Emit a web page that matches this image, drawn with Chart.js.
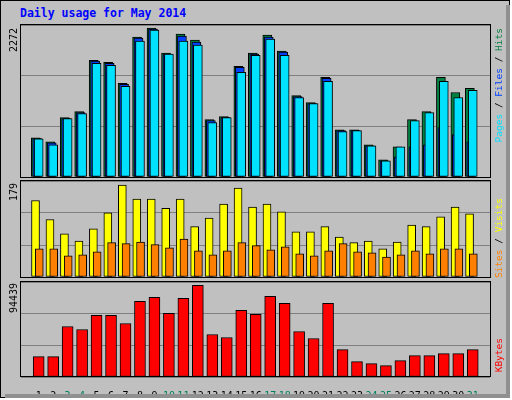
<!DOCTYPE html>
<html><head><meta charset="utf-8">
<script src="https://cdn.jsdelivr.net/npm/chart.js@4"></script>
<style>
body{margin:0;background:#fff}
#f{position:absolute;left:0;top:0;width:510px;height:398px;background:#c0c0c0;border:1px solid #000;box-sizing:border-box}
#sh1{position:absolute;left:506px;top:5px;width:4px;height:393px;background:#909090}
#sh2{position:absolute;left:5px;top:394px;width:505px;height:4px;background:#909090}
.b{position:absolute;border:1px solid #000;box-sizing:border-box;pointer-events:none}
.lbl{position:absolute;font-family:"DejaVu Sans Mono",monospace;writing-mode:vertical-rl;transform:rotate(180deg);white-space:pre}
canvas{position:absolute}
#t{position:absolute;left:20px;top:6px;font:bold 11.5px "DejaVu Sans Mono",monospace;color:#0000ff}
</style></head><body>
<div id="f"></div><div id="sh1"></div><div id="sh2"></div>
<div id="t">Daily usage for May 2014</div>
<div style="position:absolute;left:21px;top:25px;width:469px;height:152px"><canvas id="c1"></canvas></div>
<div style="position:absolute;left:21px;top:181px;width:469px;height:96px"><canvas id="c2"></canvas></div>
<div style="position:absolute;left:21px;top:282px;width:469px;height:112px"><canvas id="c3"></canvas></div>
<div class="b" style="left:20px;top:24px;width:471px;height:154px"></div>
<div class="b" style="left:20px;top:180px;width:471px;height:98px"></div>
<div class="b" style="left:20px;top:281px;width:471px;height:96px"></div>
<div class="lbl" style="left:8px;top:28px;font-size:10px">2272</div>
<div class="lbl" style="left:8px;top:183px;font-size:10px">179</div>
<div class="lbl" style="left:8px;top:283px;font-size:10px">94439</div>
<div class="lbl" style="left:493px;top:28px;font-size:9.5px"><span style="color:#00e0ff">Pages</span> / <span style="color:#0040ff">Files</span> / <span style="color:#008040">Hits</span></div>
<div class="lbl" style="left:493px;top:198px;font-size:9.5px"><span style="color:#ff8000">Sites</span> / <span style="color:#ffff00">Visits</span></div>
<div class="lbl" style="left:493px;top:338px;font-size:9.5px;color:#ff0000">KBytes</div>
<script>
const days=[1,2,3,4,5,6,7,8,9,10,11,12,13,14,15,16,17,18,19,20,21,22,23,24,25,26,27,28,29,30,31];
const weekend=[3,4,10,11,17,18,24,25,31];
const hits=[599,537,906,998,1781,1750,1428,2134,2272,1888,2180,2088,875,921,1689,1888,2164,1919,1243,1136,1520,721,721,491,261,461,875,998,1520,1289,1351];
const files=[584,522,891,983,1766,1735,1413,2119,2257,1873,2149,2057,860,906,1674,1873,2134,1904,1228,1121,1505,706,706,476,246,307,461,491,752,645,537];
const pages=[583,491,890,967,1735,1704,1382,2072,2241,1873,2072,2011,829,906,1596,1857,2103,1857,1213,1121,1458,691,706,476,246,461,860,982,1458,1213,1320];
const visits=[149,112,84,70,94,125,179,152,152,134,152,98,115,142,173,136,142,127,88,88,98,78,67,70,55,68,101,98,117,136,123];
const sites=[55,55,41,43,49,67,65,68,63,57,74,51,43,51,67,61,53,59,45,41,51,65,49,47,39,43,51,45,55,55,45];
const kbytes=[21026,21026,52049,48947,63425,63425,55152,77902,82039,65493,81005,94439,43777,40675,68595,64459,83073,75834,46879,39641,75834,28265,15856,13788,11720,16890,22061,22061,24129,24129,28265];

const XMIN=0.30,XMAX=31.67;
function pts(arr,off){return arr.map((v,i)=>({x:days[i]+off,y:v}));}
function ds(arr,off,col,w){return {data:pts(arr,off),backgroundColor:col,borderColor:'#000',borderWidth:1,borderSkipped:false,barThickness:w,grouped:false};}
function yax(S){return {min:0,max:S,ticks:{display:false,stepSize:S/3},grid:{color:'#808080',lineWidth:1,drawTicks:false},border:{display:false},afterFit:s=>{s.width=0;}};}
function xax(show){return {type:'linear',min:XMIN,max:XMAX,grid:{display:false},border:{display:false},
  ticks:{display:show,stepSize:1,autoSkip:false,maxRotation:0,padding:5,callback:v=>Number.isInteger(v)&&v>=1&&v<=31?String(v):'',
   color:c=>weekend.includes(c.tick.value)?'#008060':'#000',font:{family:'DejaVu Sans Mono',size:10}},
  afterBuildTicks:s=>{s.ticks=days.map(d=>({value:d}));},
  afterFit:s=>{s.height=show?17:0;}};}
function mk(id,datasets,S,show){
 new Chart(document.getElementById(id),{type:'bar',data:{datasets},
  options:{responsive:true,maintainAspectRatio:false,animation:false,layout:{padding:0},
   plugins:{legend:{display:false},tooltip:{enabled:false}},
   scales:{x:xax(show),y:yax(S)}}});
}
// Chart.js paints dataset 0 last (on top): front series first
mk('c1',[ds(pages,0,'#00e0ff',9),ds(files,-0.1,'#0040ff',9),ds(hits,-0.2,'#008040',9)],2318,false);
mk('c2',[ds(sites,0.04,'#ff8000',8),ds(visits,-0.22,'#ffff00',8)],187,false);
mk('c3',[ds(kbytes,0,'#ff0000',11)],97895,true);
</script></body></html>
